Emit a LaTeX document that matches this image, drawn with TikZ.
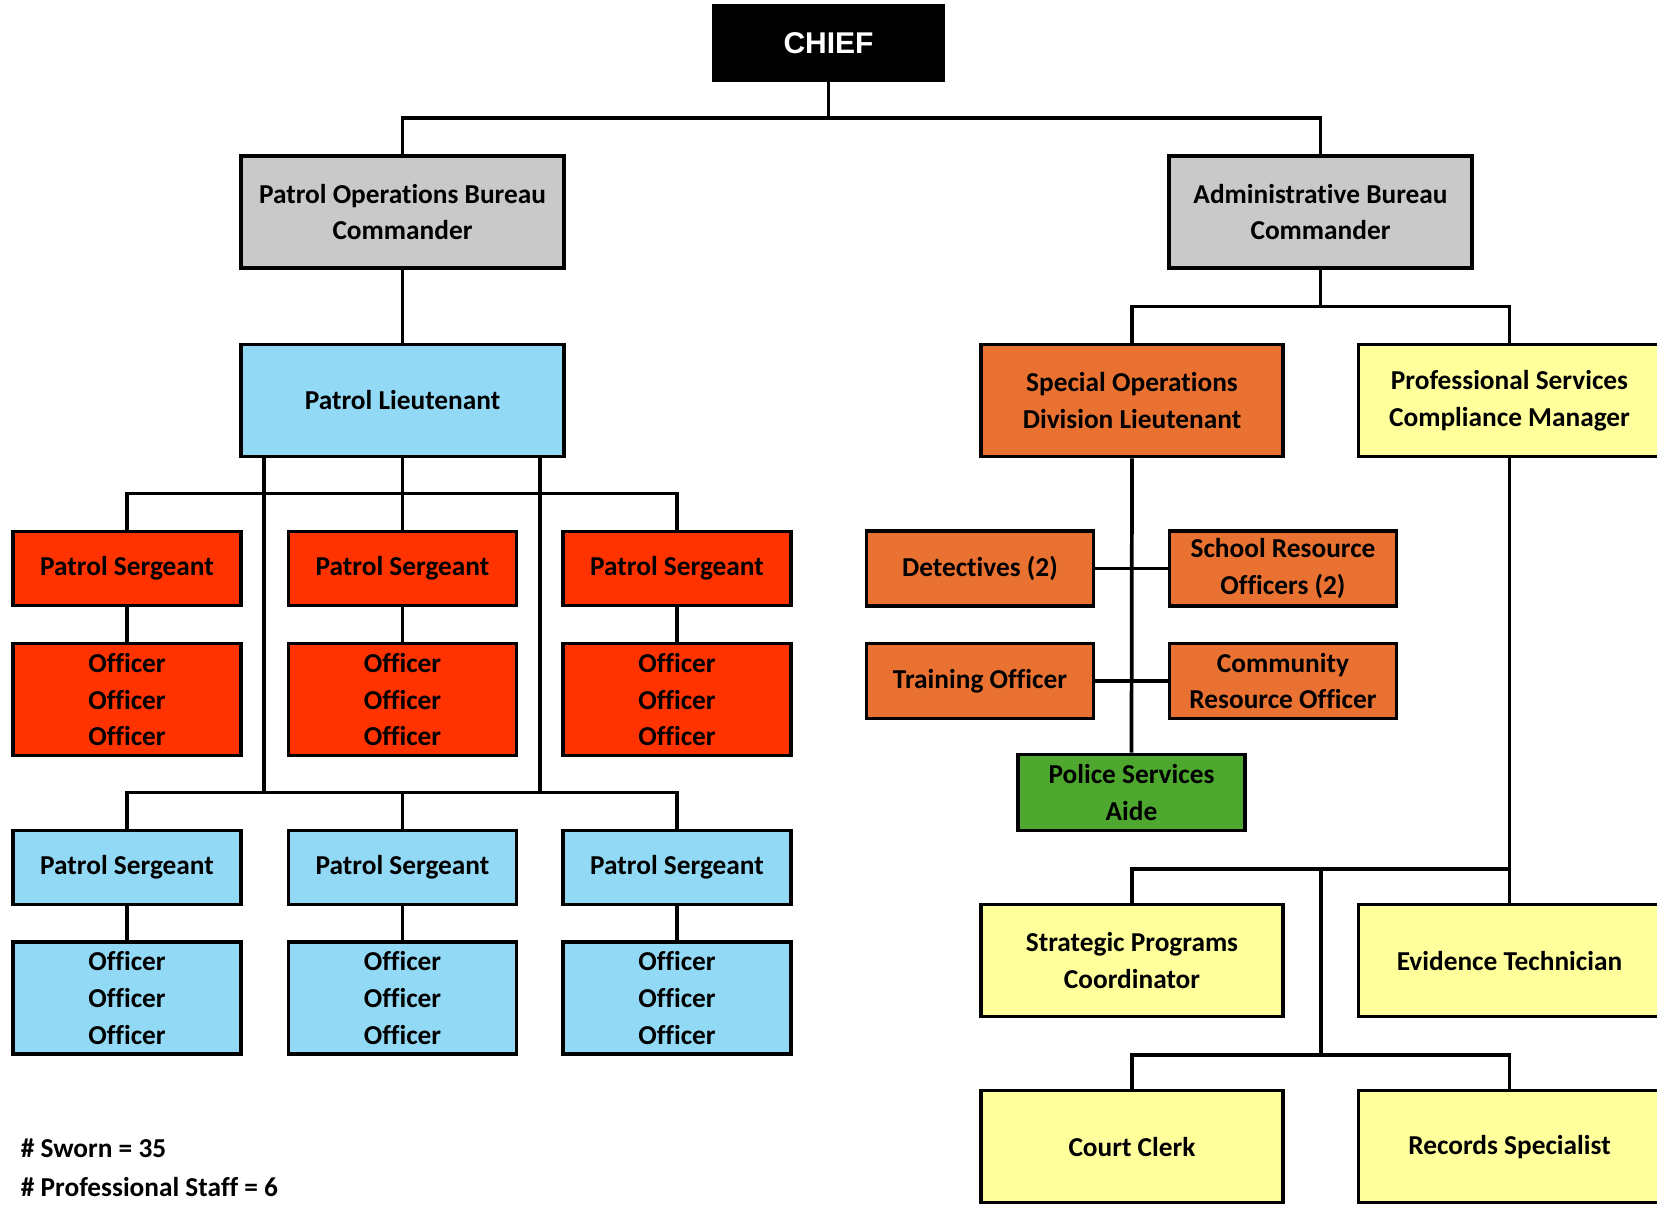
\documentclass[tikz,border=0pt]{standalone}
\usepackage{fontspec}
\setmainfont[Ligatures=NoCommon]{Carlito}
\newfontfamily\chieffont{Liberation Sans}
\definecolor{cgrey}{HTML}{C9C9C9}
\definecolor{cblue}{HTML}{92D9F5}
\definecolor{cred}{HTML}{FF3300}
\definecolor{corange}{HTML}{E97132}
\definecolor{cyellow}{HTML}{FFFF9B}
\definecolor{cgreen}{HTML}{4EA72E}
\begin{document}
\begin{tikzpicture}[x=0.75pt,y=-0.75pt,line width=2.8pt,
  box/.style={draw=black,line width=2.8pt,align=center,inner sep=0pt,
    font=\bfseries\fontsize{20.5}{27.5}\selectfont},
  big/.style={box,minimum width=242.25pt,minimum height=84pt},
  mid/.style={box,minimum width=226.5pt,minimum height=84pt},
  sgt/.style={box,minimum width=171pt,minimum height=55.5pt},
  off/.style={box,minimum width=171pt,minimum height=84pt},
  small/.style={box,minimum width=170.25pt,minimum height=56.25pt},
  legend/.style={anchor=west,inner sep=0pt,font=\bfseries\fontsize{20.5}{24}\selectfont}]
\useasboundingbox (0,0) rectangle (1657,1206);
\fill[white] (0,0) rectangle (1657,1206);

% top
\node[box,fill=black,text=white,minimum width=171.75pt,minimum height=55.5pt,
  font=\chieffont\bfseries\fontsize{22.5}{26}\selectfont] (chief) at (828.5,43) {CHIEF};
\node[big,fill=cgrey] (pob) at (402.5,212) {Patrol Operations Bureau\\Commander};
\node[box,fill=cgrey,minimum width=227.25pt,minimum height=84pt] (adm) at (1320.5,212) {Administrative Bureau\\Commander};
\coordinate (topbar) at (828.5,118);
\draw (chief.south) -- (topbar);
\draw (pob.north) |- (topbar) -| (adm.north);

% patrol side
\node[big,fill=cblue] (lt) at (402.5,400.5) {Patrol Lieutenant};
\draw (pob) -- (lt);

\node[sgt,fill=cred] (s1) at (127,568.5) {Patrol Sergeant};
\node[sgt,fill=cred] (s2) at (402.5,568.5) {Patrol Sergeant};
\node[sgt,fill=cred] (s3) at (677,568.5) {Patrol Sergeant};
\node[off,fill=cred] (o1) at (127,699.6) {Officer\\Officer\\Officer};
\node[off,fill=cred] (o2) at (402.5,699.6) {Officer\\Officer\\Officer};
\node[off,fill=cred] (o3) at (677,699.6) {Officer\\Officer\\Officer};

\node[sgt,fill=cblue] (t1) at (127,867.6) {Patrol Sergeant};
\node[sgt,fill=cblue] (t2) at (402.5,867.6) {Patrol Sergeant};
\node[sgt,fill=cblue] (t3) at (677,867.6) {Patrol Sergeant};
\node[off,fill=cblue] (p1) at (127,998) {Officer\\Officer\\Officer};
\node[off,fill=cblue] (p2) at (402.5,998) {Officer\\Officer\\Officer};
\node[off,fill=cblue] (p3) at (677,998) {Officer\\Officer\\Officer};

\coordinate (bar1) at (402.5,493.5);
\draw (lt.south) -- (s2.north);
\draw (s1.north) |- (bar1) -| (s3.north);
\coordinate (bl) at (264,792.6);
\coordinate (br) at (540,792.6);
\draw (lt.south -| bl) -- (bl);
\draw (lt.south -| br) -- (br);
\draw (t1.north) |- (bl) -- (br) -| (t3.north);
\draw (t2.north) -- (t2.north |- bl);
\foreach \a/\b in {s1/o1,s2/o2,s3/o3,t1/p1,t2/p2,t3/p3} \draw (\a) -- (\b);

% admin side
\node[mid,fill=corange] (so) at (1132,400.5) {Special Operations\\Division Lieutenant};
\node[mid,fill=cyellow] (ps) at (1509.5,400.5) {Professional Services\\Compliance Manager};
\coordinate (abar) at (1320.5,306.5);
\draw (adm.south) -- (abar);
\draw (so.north) |- (abar) -| (ps.north);

\node[small,fill=corange] (det) at (980,568.5) {Detectives (2)};
\node[small,fill=corange] (sro) at (1283,568.5) {School Resource\\Officers (2)};
\node[small,fill=corange] (tro) at (980,681) {Training Officer};
\node[small,fill=corange] (cro) at (1283,681) {Community\\Resource Officer};
\node[small,fill=cgreen,minimum height=57pt] (psa) at (1131.5,792.6) {Police Services\\Aide};
\draw (so.south) -- (psa.north);
\draw (det.east) -- (sro.west);
\draw (tro.east) -- (cro.west);

\node[mid,fill=cyellow] (spc) at (1132,960.6) {Strategic Programs\\Coordinator};
\node[mid,fill=cyellow] (evt) at (1509.5,960.6) {Evidence Technician};
\node[mid,fill=cyellow] (cc) at (1132,1146.6) {Court Clerk};
\node[mid,fill=cyellow] (rs) at (1509.5,1146.6) {Records Specialist};
\draw (ps.south) -- (evt.north);
\coordinate (jn) at (1321,868.7);
\coordinate (jb) at (1321,1054.7);
\draw (spc.north) |- (jn) -- (jn -| evt.north);
\draw (jn) -- (jb);
\draw (cc.north) |- (jb) -| (rs.north);

% legend
\node[legend] (sworn) at (19,1148.7) {\# Sworn = 35};
\node[legend] (staff) at (19,1186.8) {\# Professional Staff = 6};
\end{tikzpicture}
\end{document}
